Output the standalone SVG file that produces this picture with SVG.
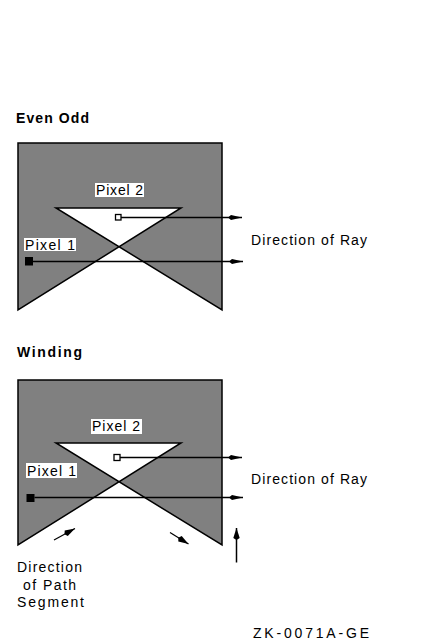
<svg xmlns="http://www.w3.org/2000/svg" width="447" height="644" viewBox="0 0 447 644">
<style>
text{font-family:"Liberation Sans",Arial,sans-serif;font-size:14px;fill:#000}
.title{font-weight:bold}
.shape{fill:#808080;stroke:#000;stroke-width:1.5;fill-rule:evenodd;stroke-linejoin:miter}
.lbl{fill:#fff}
.ray{stroke:#000;stroke-width:1.5;fill:none}
.thin{stroke:#000;stroke-width:1.2;fill:none}
</style>
<defs>
<marker id="ah" viewBox="0 0 14 8" refX="14" refY="4" markerWidth="14" markerHeight="8" markerUnits="userSpaceOnUse" orient="auto">
<path d="M0,4 L3,1.5 L14,4 L3,6.5 Z" fill="#000"/>
</marker>
<marker id="ah2" viewBox="0 0 12 8" refX="12" refY="4" markerWidth="12" markerHeight="8" markerUnits="userSpaceOnUse" orient="auto">
<path d="M0,4 L2,0.8 L12,4 L2,7.2 Z" fill="#000"/>
</marker>
</defs>

<g id="even-odd">
<text class="title" x="16" y="123" textLength="73" lengthAdjust="spacing">Even Odd</text>
<path class="shape" d="M18,143 L222,143 L222,310 L56,208 L181,208 L18,310 Z"/>
</g>
<g id="eo-pixel2">
<rect class="lbl" x="95" y="183" width="49" height="14"/>
<text x="96" y="195" textLength="47" lengthAdjust="spacing">Pixel 2</text>
<rect x="115.5" y="214.5" width="5.5" height="5.5" fill="#fff" stroke="#000" stroke-width="1.3"/>
</g>
<g id="eo-pixel1">
<rect class="lbl" x="24" y="238" width="52" height="13"/>
<text x="25" y="250" textLength="50" lengthAdjust="spacing">Pixel 1</text>
<rect x="25" y="257" width="8" height="8.5" fill="#000"/>
</g>
<text id="eo-ray-label" x="251" y="245" textLength="116" lengthAdjust="spacing">Direction of Ray</text>

<g id="winding">
<text class="title" x="17" y="357" textLength="65" lengthAdjust="spacing">Winding</text>
<path class="shape" d="M18,380 L222,380 L222,545 L56,443 L181,443 L18,545 Z"/>
</g>
<g id="w-pixel2">
<rect class="lbl" x="91" y="419" width="51" height="15"/>
<text x="92" y="431" textLength="48" lengthAdjust="spacing">Pixel 2</text>
<rect x="114" y="454.5" width="6" height="6" fill="#fff" stroke="#000" stroke-width="1.3"/>
</g>
<g id="w-pixel1">
<rect class="lbl" x="26" y="463" width="51" height="15"/>
<text x="27" y="476" textLength="49" lengthAdjust="spacing">Pixel 1</text>
<rect x="26.5" y="494" width="8" height="8" fill="#000"/>
</g>
<text id="w-ray-label" x="251" y="484" textLength="116" lengthAdjust="spacing">Direction of Ray</text>

<g id="path-segment-label">
<text x="17" y="572" textLength="65" lengthAdjust="spacing">Direction</text>
<text x="23" y="590" textLength="53" lengthAdjust="spacing">of Path</text>
<text x="17" y="607" textLength="67" lengthAdjust="spacing">Segment</text>
</g>
<text id="figure-id" x="253" y="638" textLength="116" lengthAdjust="spacing">ZK-0071A-GE</text>

<g id="connectors">
<line class="ray" x1="121" y1="217.5" x2="242" y2="217.5" marker-end="url(#ah)"/>
<line class="ray" x1="33" y1="261.5" x2="243" y2="261.5" marker-end="url(#ah)"/>
<line class="ray" x1="120" y1="457.5" x2="242" y2="457.5" marker-end="url(#ah)"/>
<line class="ray" x1="34.5" y1="497.5" x2="243" y2="497.5" marker-end="url(#ah)"/>
<line class="thin" x1="54" y1="540" x2="75" y2="528.5" marker-end="url(#ah2)"/>
<line class="thin" x1="170" y1="532.5" x2="188.5" y2="544" marker-end="url(#ah2)"/>
<line class="ray" x1="236.5" y1="562.5" x2="236.5" y2="528" marker-end="url(#ah2)"/>
</g>
</svg>
